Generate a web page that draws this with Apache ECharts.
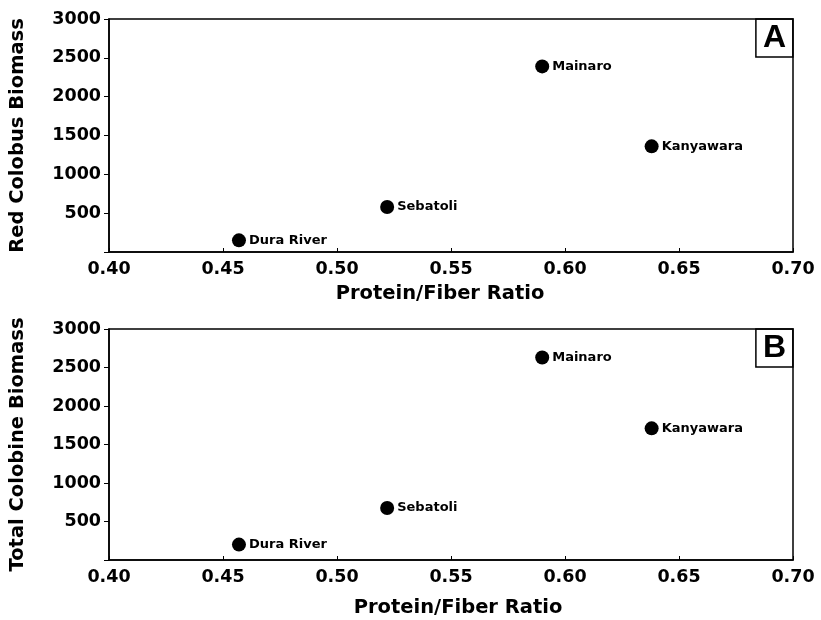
<!DOCTYPE html>
<html>
<head>
<meta charset="utf-8">
<script src="https://cdn.jsdelivr.net/npm/echarts@6/dist/echarts.min.js"></script>
<style>
    html, body { margin: 0; padding: 0; background: #fff; }
    #chart { width: 821px; height: 620px; }
</style>
</head>
<body>
<div id="chart"></div>
<script>
    // 数据
    const sites = ['Dura River', 'Sebatoli', 'Mainaro', 'Kanyawara']
    const proteinFiber = [0.457, 0.522, 0.590, 0.638]
    const redColobus = [150, 580, 2390, 1360]
    const totalColobine = [200, 675, 2630, 1710]
    const yTicks = [0, 500, 1000, 1500, 2000, 2500, 3000]
    const xTicks = [0.40, 0.45, 0.50, 0.55, 0.60, 0.65, 0.70]

    const font = 'DejaVu Sans, Verdana, sans-serif'
    const tagFont = 'Liberation Sans, Arial, Helvetica, sans-serif'
    const black = '#000'

    const toPoints = ys => sites.map((name, i) => ({ name, value: [proteinFiber[i], ys[i]] }))

    const makeX = (gridIndex, nameGap, namePad) => ({
        type: 'value',
        gridIndex,
        min: xTicks[0],
        max: xTicks[xTicks.length - 1],
        interval: 0.05,
        name: 'Protein/Fiber Ratio',
        nameLocation: 'middle',
        nameGap,
        nameTextStyle: { fontFamily: font, fontWeight: 'bold', fontSize: 19.5, color: black, padding: namePad },
        axisLine: { lineStyle: { color: black, width: 1.5 } },
        axisTick: { inside: true, length: 4, lineStyle: { color: black } },
        axisLabel: {
            fontFamily: font, fontWeight: 'bold', fontSize: 17.5, color: black, margin: 8,
            formatter: v => v.toFixed(2)
        },
        splitLine: { show: false }
    })

    const makeY = (gridIndex, name) => ({
        type: 'value',
        gridIndex,
        min: yTicks[0],
        max: yTicks[yTicks.length - 1],
        interval: 500,
        name,
        nameLocation: 'middle',
        nameGap: 81,
        nameTextStyle: { fontFamily: font, fontWeight: 'bold', fontSize: 19.5, color: black },
        axisLine: { lineStyle: { color: black, width: 1.5 } },
        axisTick: { length: 5, lineStyle: { color: black } },
        axisLabel: {
            fontFamily: font, fontWeight: 'bold', fontSize: 17.5, color: black, margin: 8,
            formatter: v => (v === 0 ? '' : String(v))
        },
        splitLine: { show: false }
    })

    const makeSeries = (idx, ys) => ({
        type: 'scatter',
        xAxisIndex: idx,
        yAxisIndex: idx,
        data: toPoints(ys),
        symbolSize: 14,
        itemStyle: { color: black, opacity: 1 },
        label: {
            show: true,
            position: 'right',
            distance: 3,
            formatter: '{b}',
            fontFamily: font,
            fontWeight: 'bold',
            fontSize: 13,
            color: black
        }
    })

    const panelTag = (text, top) => ({
        text,
        right: 28,
        top,
        padding: [3, 7, 3, 7],
        borderColor: black,
        borderWidth: 1.5,
        textStyle: { fontFamily: tagFont, fontWeight: 'bold', fontSize: 32, lineHeight: 32, color: black }
    })

    const chart = echarts.init(document.getElementById('chart'))
    chart.setOption({
        animation: false,
        backgroundColor: '#fff',
        title: [panelTag('A', 19), panelTag('B', 329)],
        grid: [
            { left: 109, right: 28, top: 19, height: 233, show: true, borderColor: black, borderWidth: 1.5 },
            { left: 109, right: 28, top: 329, height: 231, show: true, borderColor: black, borderWidth: 1.5 }
        ],
        xAxis: [makeX(0, 32, [0, 22, 0, 0]), makeX(1, 38, [0, 0, 0, 14])],
        yAxis: [makeY(0, 'Red Colobus Biomass'), makeY(1, 'Total Colobine Biomass')],
        series: [makeSeries(0, redColobus), makeSeries(1, totalColobine)]
    })
</script>
</body>
</html>
